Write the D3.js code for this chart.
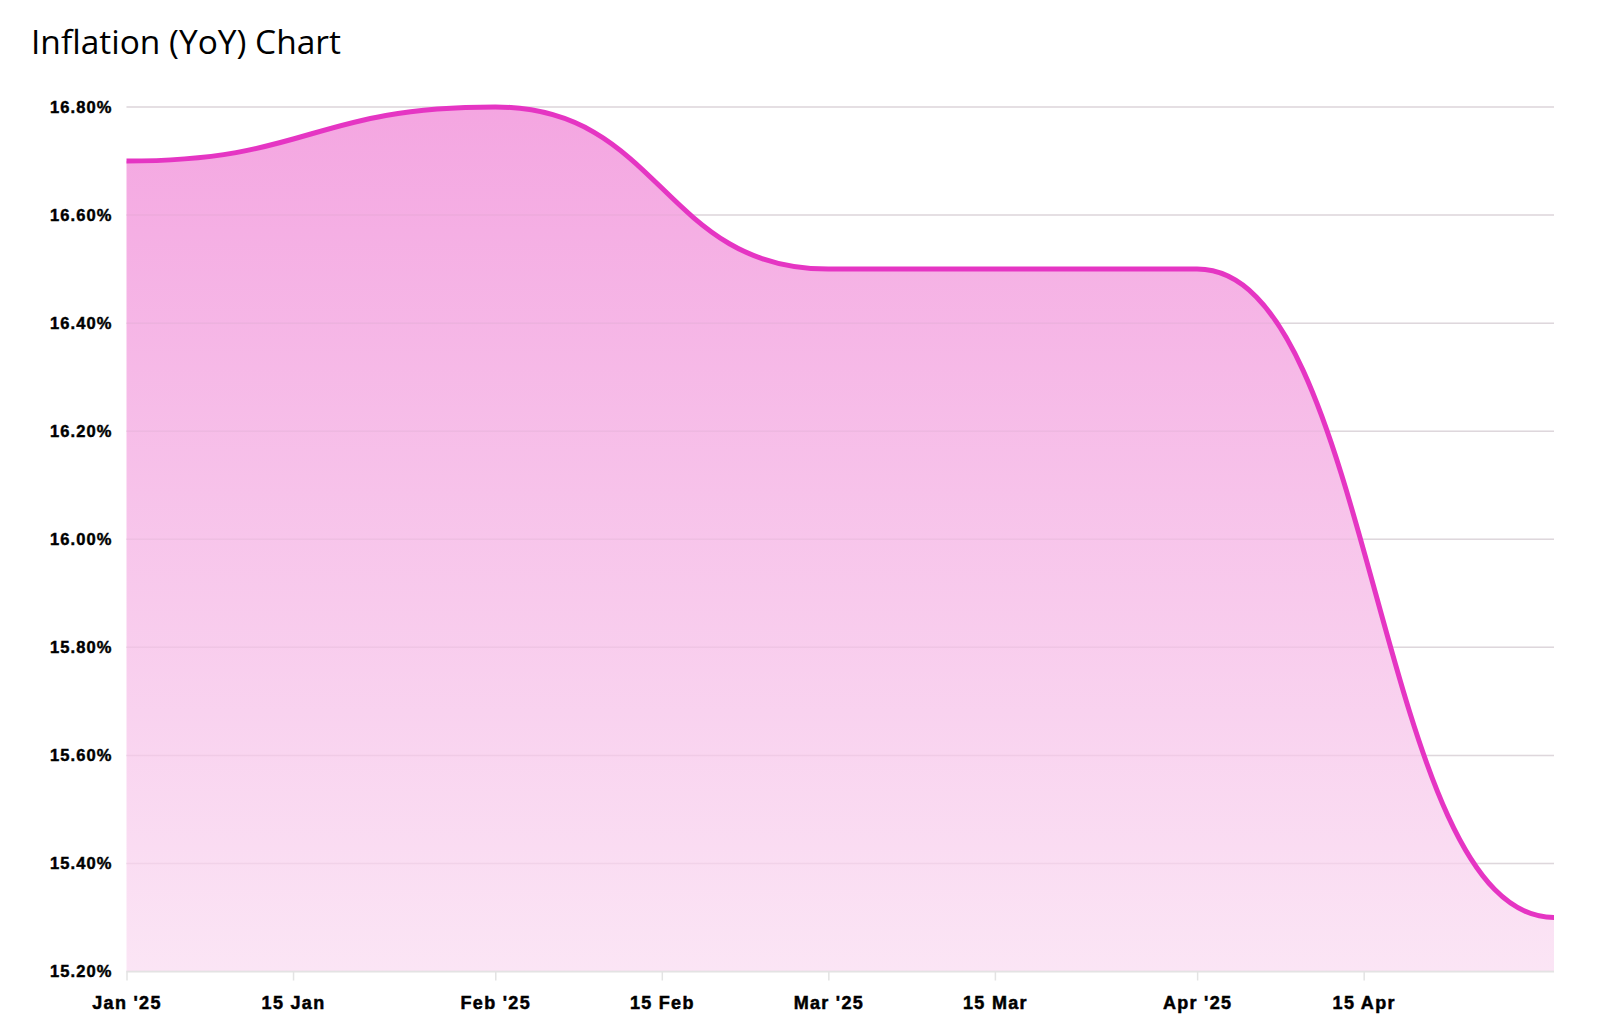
<!DOCTYPE html>
<html>
<head>
<meta charset="utf-8">
<script src="https://cdn.jsdelivr.net/npm/d3@7"></script>
<style>
  html, body { margin: 0; padding: 0; background: #ffffff; }
  svg { display: block; }
</style>
</head>
<body>
<svg id="chart" width="1600" height="1032"></svg>
<script>
// ---- data ----
const dates = ["2025-01-01", "2025-02-01", "2025-03-01", "2025-04-01", "2025-05-01"];
const inflation = [16.70, 16.80, 16.50, 16.50, 15.30];
const yTicks = [15.2, 15.4, 15.6, 15.8, 16.0, 16.2, 16.4, 16.6, 16.8];
const xTickDates = ["2025-01-01", "2025-01-15", "2025-02-01", "2025-02-15", "2025-03-01", "2025-03-15", "2025-04-01", "2025-04-15"];
const xTickLabels = ["Jan '25", "15 Jan", "Feb '25", "15 Feb", "Mar '25", "15 Mar", "Apr '25", "15 Apr"];
const title = "Inflation (YoY) Chart";

const parse = d3.utcParse("%Y-%m-%d");
const data = dates.map((d, i) => ({ date: parse(d), value: inflation[i] }));

const W = 1600, H = 1032;
const margin = { left: 126.5, right: 46, top: 107, bottom: 60.5 };
const svg = d3.select("#chart");

const x = d3.scaleUtc()
  .domain([parse(dates[0]), parse(dates[dates.length - 1])])
  .range([margin.left, W - margin.right]);
const y = d3.scaleLinear()
  .domain([15.2, 16.8])
  .range([H - margin.bottom, margin.top]);

// gradient
const defs = svg.append("defs");
const grad = defs.append("linearGradient")
  .attr("id", "fillGrad")
  .attr("gradientUnits", "userSpaceOnUse")
  .attr("x1", 0).attr("x2", 0)
  .attr("y1", y(16.8)).attr("y2", y(15.2));
grad.append("stop").attr("offset", "0%").attr("stop-color", "#f4a6e1");
grad.append("stop").attr("offset", "100%").attr("stop-color", "#fbe5f5");

// title
svg.append("text")
  .attr("x", 31).attr("y", 54)
  .attr("font-family", "'Open Sans', 'Noto Sans', sans-serif")
  .attr("font-size", 33.5)
  .attr("fill", "#000")
  .text(title);

// grid lines
svg.append("g")
  .selectAll("line")
  .data(yTicks)
  .join("line")
  .attr("x1", margin.left).attr("x2", W - margin.right)
  .attr("y1", d => y(d)).attr("y2", d => y(d))
  .attr("stroke", "#e3e3e3")
  .attr("stroke-width", 1.5);

// area
const curve = d3.curveBumpX;
const area = d3.area()
  .x(d => x(d.date))
  .y0(y(15.2))
  .y1(d => y(d.value))
  .curve(curve);
svg.append("path")
  .datum(data)
  .attr("d", area)
  .attr("fill", "url(#fillGrad)");

// grid lines faint over area
svg.append("g")
  .selectAll("line")
  .data(yTicks)
  .join("line")
  .attr("x1", margin.left).attr("x2", W - margin.right)
  .attr("y1", d => y(d)).attr("y2", d => y(d))
  .attr("stroke", "#c8a0bc")
  .attr("stroke-opacity", 0.18)
  .attr("stroke-width", 1.5);

// line
const line = d3.line()
  .x(d => x(d.date))
  .y(d => y(d.value))
  .curve(curve);
svg.append("path")
  .datum(data)
  .attr("d", line)
  .attr("fill", "none")
  .attr("stroke", "#e535c3")
  .attr("stroke-width", 5)
  .attr("stroke-linecap", "butt");

// y axis
const yAxis = d3.axisLeft(y)
  .tickValues(yTicks)
  .tickSize(0)
  .tickPadding(14)
  .tickFormat(d => d.toFixed(2) + "%");
const yg = svg.append("g")
  .attr("transform", `translate(${margin.left},0)`)
  .call(yAxis);
yg.select(".domain").remove();
yg.selectAll("text")
  .attr("font-family", "'Liberation Sans', Arial, sans-serif")
  .attr("font-weight", "bold")
  .attr("font-size", 16.5)
  .attr("letter-spacing", 1.1)
  .attr("stroke", "#000")
  .attr("stroke-width", 0.45)
  .attr("fill", "#000");

// x axis
const xAxis = d3.axisBottom(x)
  .tickValues(xTickDates.map(parse))
  .tickSize(9)
  .tickPadding(15.5)
  .tickFormat((d, i) => xTickLabels[i]);
const xg = svg.append("g")
  .attr("transform", `translate(0,${H - margin.bottom})`)
  .call(xAxis);
xg.select(".domain")
  .attr("stroke", "#e3e3e3")
  .attr("stroke-width", 1.5)
  .attr("d", `M${margin.left},0H${W - margin.right}`);
xg.selectAll(".tick line").attr("stroke", "#e3e3e3").attr("stroke-width", 1.5);
xg.selectAll("text")
  .attr("font-family", "'Liberation Sans', Arial, sans-serif")
  .attr("font-weight", "bold")
  .attr("font-size", 18)
  .attr("letter-spacing", 1.3)
  .attr("stroke", "#000")
  .attr("stroke-width", 0.5)
  .attr("fill", "#000");
</script>
</body>
</html>
